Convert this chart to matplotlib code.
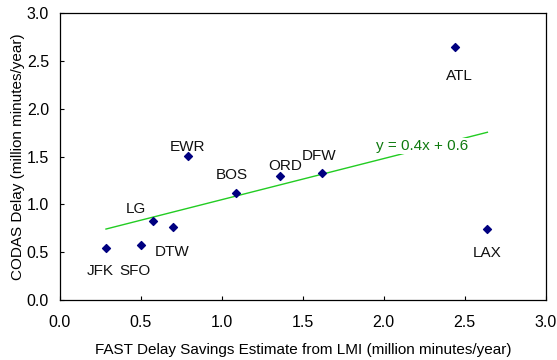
import numpy as np
import matplotlib.pyplot as plt

plt.rcParams['font.family'] = ['Liberation Sans', 'DejaVu Sans']

# airports: FAST estimate (x) vs CODAS delay (y)
airports = ["JFK", "SFO", "LG", "DTW", "BOS", "EWR", "ORD", "DFW", "ATL", "LAX"]
fast = [0.284, 0.502, 0.576, 0.70, 1.087, 0.789, 1.359, 1.616, 2.438, 2.64]
codas = [0.547, 0.575, 0.83, 0.767, 1.116, 1.51, 1.30, 1.328, 2.646, 0.739]

# label offsets in pixels (relative to point)
offsets = {"JFK": (-6, -23), "SFO": (-6, -26), "LG": (-17, 12), "DTW": (-1, -25),
           "BOS": (-4, 18), "EWR": (0, 9), "ORD": (5, 10), "DFW": (-3, 17),
           "ATL": (5, -29), "LAX": (0, -24)}

fig = plt.figure(figsize=(5.57, 3.6), dpi=100)
ax = fig.add_axes([0.1077, 0.1667, 0.872, 0.7963])

# trend line (linear fit)
m, b = np.polyfit(fast, codas, 1)
xs = np.array([min(fast), max(fast)])
ax.plot(xs, m * xs + b, color='#22cc22', lw=1.0, zorder=2)

ax.scatter(fast, codas, marker='D', s=16, color='#000080', zorder=3)

for name, x, y in zip(airports, fast, codas):
    dx, dy = offsets[name]
    ax.annotate(name, (x, y), xytext=(dx, dy), textcoords='offset pixels',
                ha='center', va='center', fontsize=11, color='#111111')

ax.text(0.745, 0.537, f"y = {m:.1f}x + {b:.1f}", transform=ax.transAxes,
        ha='center', va='center', fontsize=11, color='#0f7a0f', zorder=4,
        bbox=dict(facecolor='white', edgecolor='none', pad=1.0))

ax.set_xlim(0, 3)
ax.set_ylim(0, 3)
ax.set_xticks(np.arange(0, 3.01, 0.5))
ax.set_yticks(np.arange(0, 3.01, 0.5))
ax.xaxis.set_major_formatter(plt.FormatStrFormatter('%.1f'))
ax.yaxis.set_major_formatter(plt.FormatStrFormatter('%.1f'))
ax.tick_params(direction='in', length=3, width=0.8, labelsize=11.5)
ax.tick_params(axis='x', pad=11)
ax.tick_params(axis='y', pad=8)
for sp in ax.spines.values():
    sp.set_linewidth(0.9)

ax.set_xlabel("FAST Delay Savings Estimate from LMI (million minutes/year)", fontsize=11, labelpad=9)
ax.set_ylabel("CODAS Delay (million minutes/year)", fontsize=11, labelpad=1)

fig.savefig("out.png", dpi=100)
